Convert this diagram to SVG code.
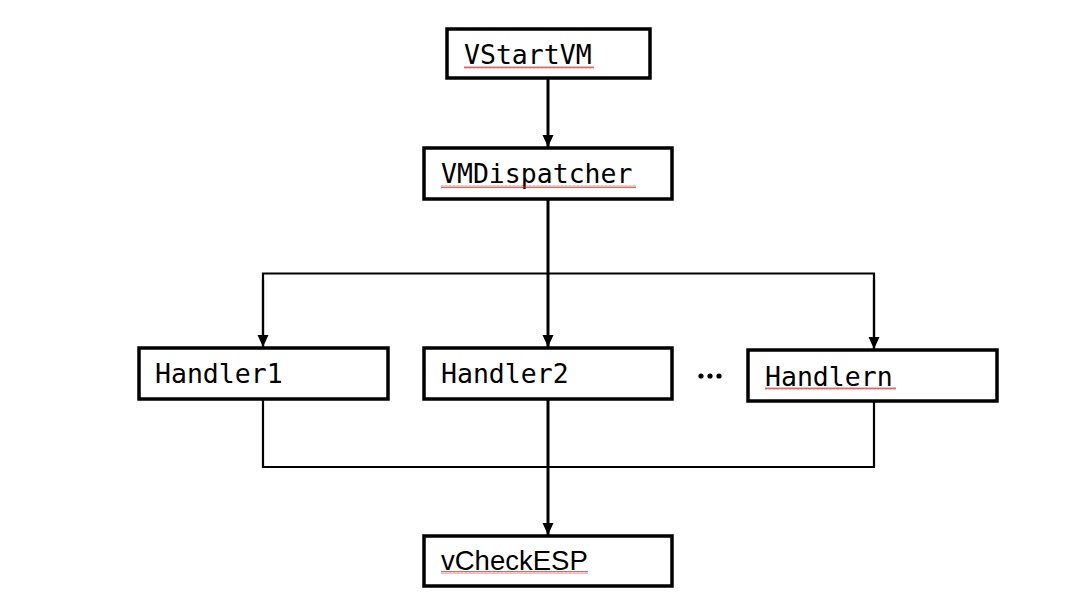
<svg xmlns="http://www.w3.org/2000/svg" width="1077" height="608" viewBox="0 0 1077 608">
<style>
.box{fill:#fff;stroke:#000;stroke-width:3.5;}
.mono{font-family:"DejaVu Sans Mono","Liberation Mono",monospace;font-size:26.5px;fill:#000;}
.sans{font-family:"Liberation Sans",Arial,sans-serif;font-size:27.5px;fill:#000;}
.thick{fill:none;stroke:#000;stroke-width:3;}
.thin{fill:none;stroke:#000;stroke-width:2.2;}
.sq{fill:url(#squig);}
</style>
<defs>
<marker id="arr" viewBox="0 0 12 12" refX="12" refY="6" markerWidth="12" markerHeight="12" markerUnits="userSpaceOnUse" orient="auto">
<path d="M0,0.5 L12,6 L0,11.5 z" fill="#000"/>
</marker>
<pattern id="squig" width="4" height="3" patternUnits="userSpaceOnUse">
<path d="M0,2.5 L1,0.5 L2,2.5 L3,0.5 L4,2.5" fill="none" stroke="#e02020" stroke-width="0.7"/>
</pattern>
</defs>
<rect width="1077" height="608" fill="#fff"/>
<g id="connectors">
<line class="thick" x1="548" y1="78" x2="548" y2="147" marker-end="url(#arr)"/>
<line class="thick" x1="548" y1="199" x2="548" y2="274"/>
<polyline class="thin" points="263,346 263,273.5 874,273.5 874,348"/>
<line class="thin" x1="263" y1="280" x2="263" y2="347" marker-end="url(#arr)"/>
<line class="thick" x1="548" y1="273" x2="548" y2="347" marker-end="url(#arr)"/>
<line class="thin" x1="874" y1="280" x2="874" y2="349" marker-end="url(#arr)"/>
<polyline class="thin" points="263,399 263,467 874,467 874,401"/>
<line class="thick" x1="548" y1="399" x2="548" y2="535" marker-end="url(#arr)"/>
</g>
<g id="VStartVM">
<rect class="box" x="447" y="29" width="203" height="49"/>
<text class="mono" x="464" y="64">VStartVM</text>
<rect class="sq" x="464" y="66" width="130" height="3"/>
</g>
<g id="VMDispatcher">
<rect class="box" x="424" y="148" width="248" height="51"/>
<text class="mono" x="441" y="183">VMDispatcher</text>
<rect class="sq" x="441" y="185" width="195" height="3"/>
</g>
<g id="Handler1">
<rect class="box" x="139" y="348" width="249" height="51"/>
<text class="mono" x="155" y="383">Handler1</text>
</g>
<g id="Handler2">
<rect class="box" x="424" y="348" width="248" height="51"/>
<text class="mono" x="441" y="383">Handler2</text>
</g>
<g id="ellipsis">
<circle cx="701" cy="376" r="2.6"/>
<circle cx="710" cy="376" r="2.6"/>
<circle cx="719" cy="376" r="2.6"/>
</g>
<g id="Handlern">
<rect class="box" x="748" y="350" width="249" height="51"/>
<text class="mono" x="765" y="386">Handlern</text>
<rect class="sq" x="765" y="387" width="131" height="3"/>
</g>
<g id="vCheckESP">
<rect class="box" x="424" y="536" width="248" height="50"/>
<text class="sans" x="441" y="570">vCheckESP</text>
<rect class="sq" x="441" y="571" width="147" height="3"/>
</g>
</svg>
